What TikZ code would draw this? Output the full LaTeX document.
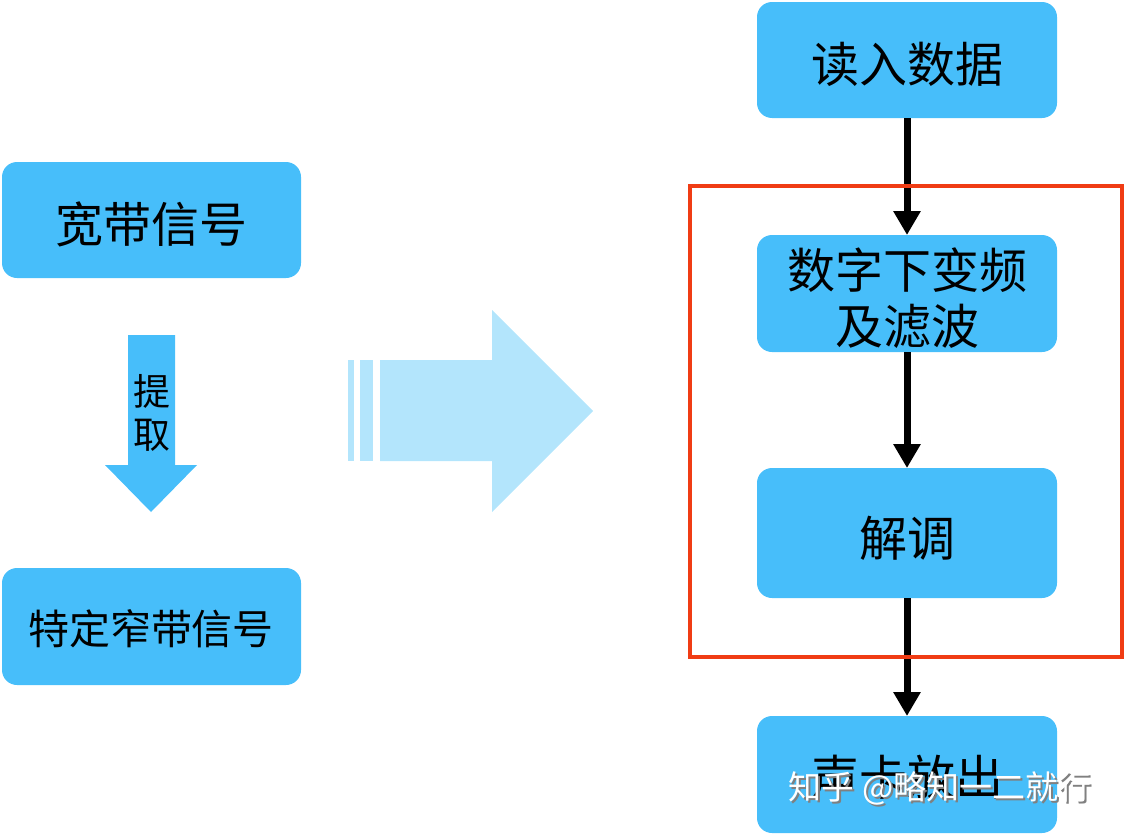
\documentclass[tikz,border=0pt]{standalone}
\usepackage{fontspec}
\newfontfamily\cjk{Noto Sans CJK SC}
\usetikzlibrary{arrows.meta}
\definecolor{boxblue}{HTML}{47BEFA}
\definecolor{lightblue}{HTML}{B3E5FC}
\definecolor{redframe}{HTML}{F03C14}
\tikzset{
  stage/.style={fill=boxblue, rounded corners=15pt},
  flow/.style={line width=7pt, -{Triangle[length=24pt,width=26pt]}},
  lbl/.style={font=\cjk\fontsize{48pt}{56pt}\selectfont, align=center}
}
\begin{document}
\begin{tikzpicture}[x=1pt, y=-1pt]
    \useasboundingbox (0,0) rectangle (1125,835);

    % Left column
    \fill[stage] (2,162) rectangle (301,278);
    \node[lbl] (wide) at (151,224) {宽带信号};
    \fill[stage] (2,568) rectangle (301,685);
    \node[lbl, font=\cjk\fontsize{41pt}{48pt}\selectfont] (narrow) at (151,629) {特定窄带信号};
    \fill[boxblue] (128,335) -- (175,335) -- (175,465) -- (197,465) -- (151,512)
        -- (105,465) -- (128,465) -- cycle;
    \node[lbl, font=\cjk\fontsize{37pt}{43pt}\selectfont] (pick) at (152,413) {提\\取};

    % Big transition arrow
    \fill[lightblue] (348,360) rectangle (354,461);
    \fill[lightblue] (360,360) rectangle (373,461);
    \fill[lightblue] (380,360) -- (492,360) -- (492,310) -- (593,411) -- (492,512)
        -- (492,461) -- (380,461) -- cycle;

    % Right column
    \fill[stage] (757,2) rectangle (1057,118);
    \node[lbl] (read) at (907,64) {读入数据};
    \fill[stage] (757,235) rectangle (1057,352);
    \node[lbl] (ddc) at (907,298) {数字下变频\\及滤波};
    \fill[stage] (757,468) rectangle (1057,598);
    \node[lbl] (demod) at (907,538) {解调};
    \fill[stage] (757,716) rectangle (1057,833);
    \node[lbl] (play) at (907,777) {声卡放出};

    \coordinate (r1) at (907,118);
    \coordinate (r2) at (907,235);
    \coordinate (r3) at (907,352);
    \coordinate (r4) at (907,468);
    \coordinate (r5) at (907,598);
    \coordinate (r6) at (907,716);
    \draw[flow] (r1) -- (r2);
    \draw[flow] (r3) -- (r4);
    \draw[flow] (r5) -- (r6);

    \draw[redframe, line width=3.5pt] (690,186) rectangle (1122,657);

    % Watermark
    \node[font=\cjk\fontsize{33pt}{38pt}\selectfont, gray] at (942,790) {知乎 @略知一二就行};
    \node[font=\cjk\fontsize{33pt}{38pt}\selectfont, white] (mark) at (940,788) {知乎 @略知一二就行};
\end{tikzpicture}
\end{document}
